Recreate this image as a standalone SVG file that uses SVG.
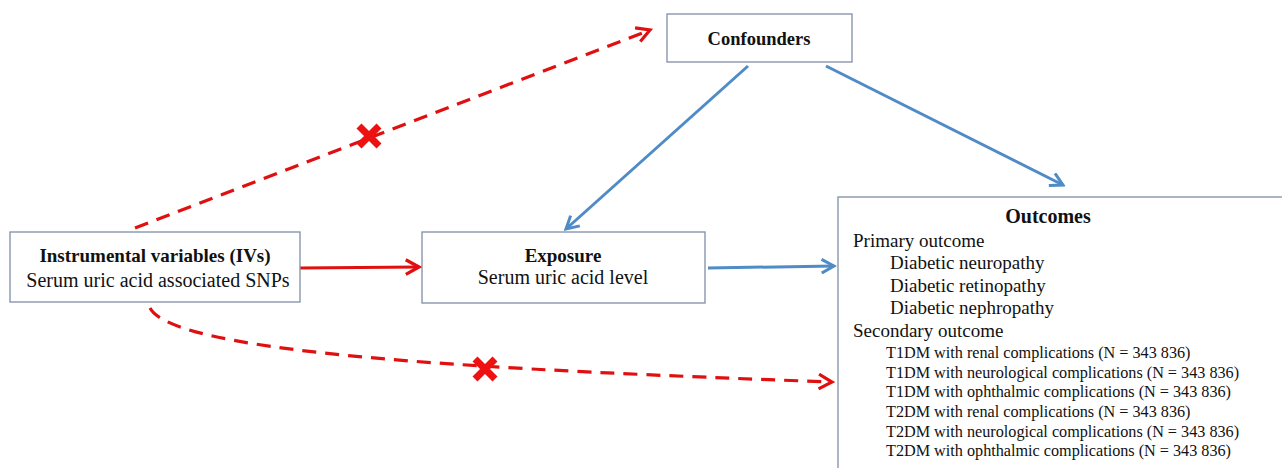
<svg xmlns="http://www.w3.org/2000/svg" width="1282" height="468" viewBox="0 0 1282 468">
<style>
.box{fill:#fff;stroke:#7f8ea6;stroke-width:1.3}
.t{font-family:"Liberation Serif","Times New Roman",serif;fill:#111}
.b{font-weight:bold}
.red{stroke:#e01010;stroke-width:3.2;fill:none}
.dash{stroke-dasharray:14 9}
.blue{stroke:#4f8bc6;stroke-width:3;fill:none}
.x{stroke:#ee1111;stroke-width:7;stroke-linecap:butt}
</style>
<defs>
<marker id="ar" viewBox="0 0 12 12" refX="10" refY="6" markerWidth="5.5" markerHeight="5.5" markerUnits="strokeWidth" orient="auto">
<path d="M1,1 L10,6 L1,11" fill="none" stroke="#e01010" stroke-width="2.2"/>
</marker>
<marker id="ab" viewBox="0 0 12 12" refX="10" refY="6" markerWidth="5.5" markerHeight="5.5" markerUnits="strokeWidth" orient="auto">
<path d="M1,1 L10,6 L1,11" fill="none" stroke="#4f8bc6" stroke-width="2.2"/>
</marker>
</defs>
<rect width="1282" height="468" fill="#fff"/>
<g id="connectors">
<path class="red dash" d="M135,228 L650,30" marker-end="url(#ar)"/>
<path class="blue" d="M748,66 L566,229" marker-end="url(#ab)"/>
<path class="blue" d="M826,66 L1063,185" marker-end="url(#ab)"/>
<path class="red" d="M300,268 L419,267" marker-end="url(#ar)"/>
<path class="blue" d="M708,268 L834,266" marker-end="url(#ab)"/>
<path class="red dash" d="M150,308 C175,355 500,370 832,382" marker-end="url(#ar)"/>
<g id="x1"><path class="x" d="M359,126 L379,146 M379,126 L359,146"/></g>
<g id="x2"><path class="x" d="M475,359 L495,379 M495,359 L475,379"/></g>
</g>
<g id="confounders">
<rect class="box" x="667" y="14" width="185" height="48"/>
<text class="t b" x="759" y="45" font-size="18.5" text-anchor="middle">Confounders</text>
</g>
<g id="ivs">
<rect class="box" x="10" y="232" width="290" height="70"/>
<text class="t b" x="155" y="262" font-size="19" text-anchor="middle">Instrumental variables (IVs)</text>
<text class="t" x="158" y="287" font-size="20" text-anchor="middle">Serum uric acid associated SNPs</text>
</g>
<g id="exposure">
<rect class="box" x="422" y="232" width="283" height="71"/>
<text class="t b" x="563" y="262" font-size="19" text-anchor="middle">Exposure</text>
<text class="t" x="563" y="284" font-size="20" text-anchor="middle">Serum uric acid level</text>
</g>
<g id="outcomes">
<rect class="box" x="838" y="197" width="450" height="280"/>
<text class="t b" x="1048" y="223" font-size="20" text-anchor="middle">Outcomes</text>
<text class="t" x="853" y="247" font-size="19">Primary outcome</text>
<text class="t" x="890" y="269" font-size="19">Diabetic neuropathy</text>
<text class="t" x="890" y="292" font-size="19">Diabetic retinopathy</text>
<text class="t" x="890" y="314" font-size="19">Diabetic nephropathy</text>
<text class="t" x="853" y="337" font-size="19">Secondary outcome</text>
<text class="t" x="886" y="358" font-size="16.2">T1DM with renal complications (N = 343 836)</text>
<text class="t" x="886" y="378" font-size="16.2">T1DM with neurological complications (N = 343 836)</text>
<text class="t" x="886" y="397" font-size="16.2">T1DM with ophthalmic complications (N = 343 836)</text>
<text class="t" x="886" y="417" font-size="16.2">T2DM with renal complications (N = 343 836)</text>
<text class="t" x="886" y="437" font-size="16.2">T2DM with neurological complications (N = 343 836)</text>
<text class="t" x="886" y="456" font-size="16.2">T2DM with ophthalmic complications (N = 343 836)</text>
</g>
</svg>
